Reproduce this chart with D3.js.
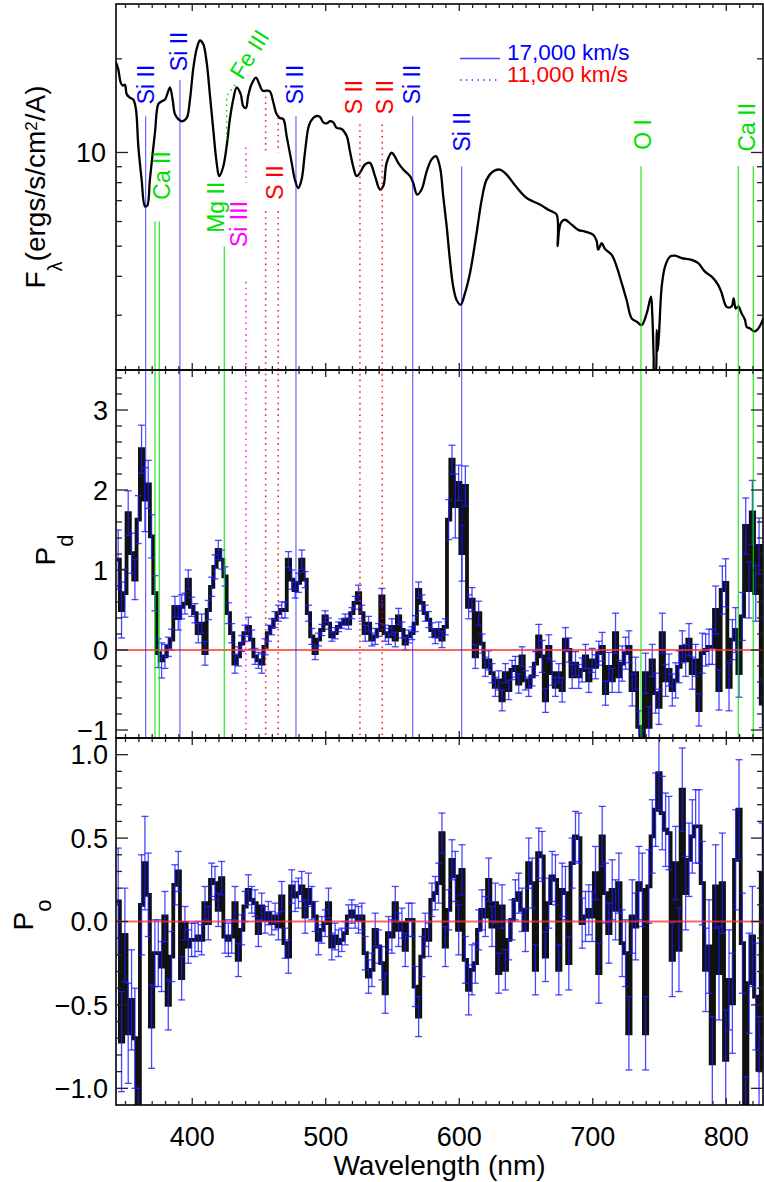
<!DOCTYPE html>
<html><head><meta charset="utf-8">
<script src="https://cdn.jsdelivr.net/npm/d3@7"></script>
<style>
html,body{margin:0;padding:0;background:#fff;}
svg{display:block;font-family:"Liberation Sans",Arial,Helvetica,sans-serif;}
</style></head><body>
<svg id="chart" width="764" height="1182"></svg>
<script>
// ---------- flux spectrum (nm, ergs/s/cm^2/A) ----------
const fluxWave = [342.8,344.6,346.4,347.9,349.6,350.9,353.3,355.8,357.8,359.6,362.1,364.6,366.3,368.3,372.1,374.6,377.1,379.6,381.3,383.3,385.3,387.0,389.5,392.1,395.8,398.3,400.7,403.3,405.8,408.2,410.8,413.3,415.7,418.3,420.2,423.2,425.8,428.2,430.7,433.3,436.3,438.2,440.2,441.9,444.5,447.7,450.2,452.7,455.7,458.2,460.7,463.2,465.7,468.2,470.7,474.5,476.9,479.4,481.9,484.4,487.4,490.6,493.2,495.7,498.1,500.7,503.1,505.6,
 508.2,511.9,515.7,518.1,520.6,523.1,525.6,529.4,533.1,536.9,540.6,543.1,545.6,549.4,551.8,554.3,558.1,563.1,565.5,568.5,571.8,575.6,579.3,582.5,585.5,588.0,590.6,593.0,595.5,598.1,601.0,604.3,608.0,613.0,616.8,620.5,625.5,630.5,635.5,640.4,645.5,650.5,655.4,660.4,666.7,
 669.2,673.0,673.7,674.7,676.2,679.2,684.2,689.1,694.2,700.4,702.9,704.1,706.7,709.1,714.2,717.9,721.7,725.4,729.1,732.9,736.6,740.4,743.6,744.6,745.6,746.1,746.8,747.9,748.6,749.6,751.6,754.1,757.8,761.6,766.6,774.1,779.0,784.0,789.1,794.0,796.6,800.3,804.0,805.5,807.1,809.0,811.5,814.0,815.3,817.8,821.0,824.0,827.8];
const fluxValue = [19.5,18.5,16.8,16.4,16.5,15.4,15.0,14.8,13.8,10.5,8.18,6.71,6.75,8.2,11.6,14.3,14.6,14.8,15.4,16.2,14.8,13.3,12.8,12.6,12.9,14.8,18.5,21.5,22.9,22.3,19.5,15.2,11.9,9.26,8.39,9.0,10.5,12.8,14.8,16.2,15.4,14.1,13.9,15.2,16.6,17.4,16.6,15.8,15.8,15.7,14.5,13.3,12.9,12.8,11.3,9.26,8.18,7.69,8.18,9.98,12.2,12.9,13.1,13.0,12.5,12.4,12.6,12.5,
 12.0,11.9,11.3,10.1,9.0,8.39,8.6,9.15,9.26,8.39,7.6,7.8,9.26,9.98,9.7,9.26,8.81,8.39,7.98,7.32,7.6,8.7,9.5,9.73,9.0,7.23,5.78,4.52,3.7,3.35,3.24,3.53,4.09,5.51,7.05,8.18,8.7,8.81,8.49,7.98,7.5,7.14,6.96,6.8,6.55,
 6.47,6.31,5.0,5.6,5.95,6.08,5.86,5.64,5.57,5.44,5.2,4.87,5.11,4.9,4.69,4.30,3.80,3.35,2.93,2.86,2.79,3.04,3.44,3.0,2.2,1.9,1.9,2.69,2.3,2.6,3.7,4.30,4.63,4.66,4.58,4.52,4.41,4.14,3.99,3.75,3.53,3.19,3.2,3.4,3.15,3.2,3.04,2.9,2.75,2.72,2.66,2.72,2.93];

// ---------- binned polarization (2.5 nm bins starting at 343.3 nm) ----------
const binStart = 343.3, binWidth = 2.5;
const pdValue = [1.13,0.5,0.71,1.71,1.21,0.88,1.63,2.51,1.88,2.07,
 1.42,0.71,-0.04,-0.13,-0.08,0.04,0.13,0.54,0.4,0.54,
 0.58,0.88,0.54,0.46,0.21,0.33,-0.04,0.5,0.79,1.04,
 1.25,1.13,0.92,0.46,0.21,-0.17,-0.08,0.08,0.21,0.29,
 0.13,-0.08,-0.13,-0.17,0.04,0.21,0.29,0.38,0.46,
 0.5,0.5,1.13,0.88,0.75,0.84,1.13,0.88,0.46,0.17,
 -0.04,0.13,0.25,0.42,0.33,0.17,0.21,0.29,0.33,0.38,
 0.33,0.46,0.59,0.71,0.46,0.21,0.33,0.13,0.17,0.25,
 0.67,0.21,0.17,0.29,0.13,0.42,0.25,0.08,0.17,0.21,
 0.33,0.75,0.59,0.46,0.38,0.25,0.17,0.25,0.13,0.29,
 1.63,2.38,1.8,2.09,1.21,2.05,0.54,0.63,-0.08,0.46,
 0.08,-0.21,-0.13,-0.29,-0.46,-0.38,-0.63,-0.29,-0.5,-0.25,
 -0.21,-0.42,-0.08,-0.38,-0.46,-0.33,-0.17,0.17,-0.08,-0.63,
 0.04,-0.29,-0.46,-0.29,-0.5,0.13,0.0,-0.33,-0.17,-0.33,
 -0.25,-0.08,-0.38,-0.13,-0.21,-0.04,0.04,-0.54,-0.21,-0.38,
 0.21,-0.33,-0.17,-0.04,0.04,-0.5,-0.29,-0.96,-1.2,-0.29,
 -0.96,-0.13,-0.54,-0.71,0.21,-0.38,-0.25,-0.5,-0.38,-0.21,
 0.04,-0.13,0.13,-0.29,-0.13,-0.75,-0.04,0.0,0.04,0.04,
 0.5,-0.5,0.75,0.84,-0.46,0.13,0.25,-0.29,0.42,1.55,
 0.75,1.72,0.71,1.3,-0.67];
const pdError = [0.37,0.35,0.3,0.28,0.25,0.25,0.3,0.3,0.4,0.3,
 0.27,0.22,0.18,0.22,0.15,0.12,0.13,0.13,0.15,0.15,
 0.13,0.12,0.12,0.12,0.12,0.12,0.15,0.12,0.12,0.15,
 0.12,0.12,0.12,0.13,0.12,0.12,0.12,0.1,0.1,0.12,
 0.12,0.1,0.1,0.12,0.1,0.1,0.1,0.1,0.1,
 0.1,0.1,0.1,0.12,0.1,0.12,0.12,0.1,0.1,0.1,
 0.08,0.08,0.07,0.07,0.07,0.06,0.07,0.06,0.06,0.07,
 0.07,0.07,0.08,0.1,0.1,0.1,0.09,0.08,0.1,0.08,
 0.1,0.1,0.1,0.1,0.09,0.1,0.1,0.08,0.08,0.08,
 0.1,0.1,0.1,0.1,0.1,0.09,0.09,0.1,0.1,0.1,
 0.25,0.18,0.4,0.22,0.35,0.25,0.15,0.15,0.15,0.15,
 0.12,0.12,0.12,0.12,0.12,0.12,0.13,0.12,0.12,0.12,
 0.13,0.12,0.12,0.12,0.12,0.12,0.15,0.15,0.2,0.15,
 0.15,0.15,0.12,0.12,0.15,0.15,0.15,0.15,0.15,0.15,
 0.15,0.15,0.15,0.15,0.15,0.15,0.18,0.15,0.18,0.15,
 0.25,0.2,0.22,0.2,0.2,0.2,0.2,0.2,0.2,0.25,
 0.25,0.2,0.25,0.22,0.25,0.2,0.2,0.2,0.22,0.2,
 0.2,0.2,0.2,0.2,0.2,0.2,0.25,0.2,0.22,0.22,
 0.3,0.25,0.3,0.3,0.3,0.25,0.28,0.3,0.3,0.35,
 0.35,0.4,0.35,0.35,0.3];
const poValue = [0.12,-0.72,-0.08,-0.67,-0.47,-0.7,-1.3,0.1,0.35,0.16,
 -0.63,-0.19,-0.19,-0.27,0.03,-0.5,-0.21,0.22,0.3,-0.34,
 -0.01,-0.15,-0.11,-0.11,-0.09,-0.11,0.11,-0.01,0.25,0.23,
 0.07,0.26,-0.09,-0.11,-0.09,0.11,-0.23,-0.05,0.09,0.19,
 0.13,0.11,-0.07,0.09,0.01,0.05,-0.01,0.03,-0.03,0.15,
 -0.13,-0.21,0.21,0.15,0.17,
 0.21,0.03,0.19,0.11,0.03,-0.11,-0.05,-0.01,0.11,-0.15,
 -0.09,-0.13,-0.11,-0.07,0.03,0.06,0.03,0.01,0.03,-0.19,
 -0.33,-0.29,-0.05,-0.15,-0.25,-0.43,-0.07,-0.09,0.11,-0.05,
 -0.01,-0.17,0.01,0.01,-0.39,-0.57,-0.21,-0.05,-0.11,0.13,
 0.17,0.23,0.53,-0.15,0.07,0.37,0.27,-0.05,0.31,-0.23,
 -0.41,-0.29,-0.25,-0.05,0.07,0.03,0.25,-0.03,0.11,-0.31,
 0.09,-0.29,-0.11,0.01,0.13,0.17,0.07,-0.05,0.35,0.23,
 -0.29,0.41,0.39,-0.21,0.11,0.27,0.25,-0.29,0.19,0.17,
 -0.25,0.35,0.51,0.5,-0.01,0.03,0.07,0.03,0.29,-0.31,
 0.51,0.17,-0.07,0.19,0.07,0.23,-0.13,-0.19,-0.67,0.03,
 -0.03,0.23,0.19,-0.67,0.21,0.51,0.67,0.89,0.65,0.55,
 0.53,-0.23,0.35,-0.17,0.79,0.17,0.37,0.51,0.57,0.57,
 0.23,-0.29,-0.15,-0.85,0.21,-0.31,0.23,-0.83,-0.35,-0.49,
 0.37,0.67,-0.13,-1.25,-0.37,-0.09,-0.45,-0.89,0.29];
const poError = [0.32,0.3,0.28,0.3,0.3,0.3,0.3,0.3,0.28,0.25,
 0.25,0.2,0.2,0.15,0.15,0.15,0.15,0.12,0.12,0.13,
 0.1,0.1,0.1,0.1,0.09,0.09,0.1,0.1,0.1,0.1,
 0.1,0.1,0.1,0.1,0.1,0.1,0.1,0.09,0.09,0.09,
 0.08,0.08,0.08,0.08,0.08,0.07,0.07,0.08,0.08,0.09,
 0.09,0.1,0.1,0.09,0.09,
 0.09,0.1,0.1,0.1,0.09,0.09,0.08,0.08,0.09,0.08,
 0.08,0.08,0.07,0.07,0.07,0.07,0.07,0.08,0.08,0.1,
 0.1,0.1,0.1,0.1,0.1,0.12,0.1,0.1,0.1,0.1,
 0.09,0.1,0.1,0.1,0.12,0.12,0.12,0.1,0.1,0.1,
 0.1,0.12,0.12,0.12,0.12,0.12,0.15,0.15,0.15,0.14,
 0.15,0.15,0.12,0.12,0.12,0.12,0.13,0.12,0.12,0.12,
 0.13,0.12,0.12,0.12,0.12,0.12,0.13,0.13,0.15,0.15,
 0.15,0.15,0.15,0.15,0.15,0.15,0.15,0.15,0.16,0.16,
 0.16,0.15,0.15,0.15,0.15,0.15,0.15,0.15,0.16,0.18,
 0.18,0.18,0.18,0.18,0.18,0.18,0.2,0.2,0.22,0.22,
 0.2,0.22,0.22,0.22,0.22,0.22,0.22,0.22,0.22,0.22,
 0.22,0.22,0.22,0.25,0.25,0.22,0.22,0.22,0.22,0.22,
 0.25,0.25,0.28,0.28,0.25,0.28,0.3,0.3,0.3,0.3,
 0.3,0.3,0.3,0.32,0.3,0.3,0.32,0.32,0.3];

// ---------- line identifications ----------
const markerIon  = ["Si II","Ca II","Ca II","Si II","Mg II","Si III","S II","S II","Si II","S II","S II","Si II","Si II","O I","Ca II","Ca II"];
const markerWave = [365.1,372.1,375.3,390.8,424.0,440.2,455.0,464.4,477.7,525.6,542.3,565.1,601.8,736.1,809.0,820.2];
const markerVel  = [17,17,17,17,17,11,11,11,17,11,11,17,17,17,17,17]; // 10^3 km/s
const feIIIWave = 425.8;
const legendVel = ["17,000 km/s","11,000 km/s"];

// ---------- axis ticks ----------
const xMajor = [400,500,600,700,800];
const fluxTickLabels = [10];
const pdTickLabels = [-1,0,1,2,3];
const poTickLabels = [-1.0,-0.5,0.0,0.5,1.0];

// ================= drawing =================
const svg = d3.select("#chart");
const X0 = 116, X1 = 763;
const P = {top:[4,370], mid:[370,738], bot:[738,1105]};
const BLUE = "#0000ff", RED = "#ff0000", GREEN = "#00e000", MAG = "#ff00ff";
const ionColor = {"Si II":BLUE,"S II":RED,"Si III":MAG,"Ca II":GREEN,"Mg II":GREEN,"O I":GREEN,"Fe III":GREEN};

const x = d3.scaleLinear().domain([342.9, 827.5]).range([X0, X1]);
const yF = d3.scaleLog().domain([2, 30]).range([P.top[1], P.top[0]]);
const yPd = d3.scaleLinear().domain([-1.1, 3.5]).range([P.mid[1], P.mid[0]]);
const yPo = d3.scaleLinear().domain([-1.1, 1.1]).range([P.bot[1], P.bot[0]]);

const defs = svg.append("defs");
function clip(id, yr) {
  defs.append("clipPath").attr("id", id).append("rect")
    .attr("x", X0).attr("y", yr[0]).attr("width", X1 - X0).attr("height", yr[1] - yr[0]);
}
clip("cTop", P.top); clip("cMid", P.mid); clip("cBot", P.bot);

// ---- flux spectrum ----
const fluxPts = d3.zip(fluxWave, fluxValue);
svg.append("path").attr("clip-path", "url(#cTop)")
  .attr("d", d3.line().x(d => x(d[0])).y(d => yF(d[1])).curve(d3.curveCatmullRom.alpha(0.5))(fluxPts))
  .attr("fill", "none").attr("stroke", "#000").attr("stroke-width", 2.3).attr("stroke-linejoin", "round");

// ---- binned panels ----
function binned(vals, errs, y, clipId) {
  const g = svg.append("g").attr("clip-path", `url(#${clipId})`);
  const pts = vals.map((v, i) => [binStart + i * binWidth, v]);
  pts.push([binStart + vals.length * binWidth, vals[vals.length - 1]]);
  g.append("path")
    .attr("d", d3.line().x(d => x(d[0])).y(d => y(d[1])).curve(d3.curveStepAfter)(pts))
    .attr("fill", "none").attr("stroke", "#111").attr("stroke-width", 3.8).attr("stroke-linejoin", "miter");
  const eb = g.append("g").attr("stroke", "#1a1aff").attr("stroke-width", 1.3).attr("stroke-opacity", 0.8).attr("fill", "none");
  vals.forEach((v, i) => {
    const cx = x(binStart + (i + 0.5) * binWidth);
    const e = errs[i];
    const yt = y(v + e), yb = y(v - e);
    eb.append("line").attr("x1", cx).attr("x2", cx).attr("y1", yt).attr("y2", yb);
    eb.append("line").attr("x1", cx - 3.5).attr("x2", cx + 3.5).attr("y1", yt).attr("y2", yt);
    eb.append("line").attr("x1", cx - 3.5).attr("x2", cx + 3.5).attr("y1", yb).attr("y2", yb);
  });
  g.append("line").attr("x1", X0).attr("x2", X1).attr("y1", y(0)).attr("y2", y(0))
    .attr("stroke", "#ff3030").attr("stroke-opacity", 0.75).attr("stroke-width", 1.8);
}
binned(pdValue, pdError, yPd, "cMid");
binned(poValue, poError, yPo, "cBot");

// ---- identification lines: visible segments in flux units (top panel), then through P_d panel ----
const segTop = [ [[13.07]], [[6.0]], [[6.0]], [[17.1]], [[4.99]],
  [[10.38, 8.0], [3.84]], [[15.77, 10.0], [6.47]], [[12.97, 10.0], [6.47]],
  [[13.07]], [[12.31]], [[12.31]], [[13.07]], [[9.03]], [[9.03]], [[9.03]], [[9.03]] ];
const gl = svg.append("g");
markerWave.forEach((w, i) => {
  const col = ionColor[markerIon[i]];
  const dotted = markerVel[i] === 11;
  const xx = x(w);
  segTop[i].forEach(s => {
    const y1 = yF(s[0]);
    const y2 = s.length > 1 ? yF(s[1]) : P.mid[1];
    gl.append("line").attr("x1", xx).attr("x2", xx).attr("y1", y1).attr("y2", y2)
      .attr("stroke", col).attr("stroke-width", dotted ? 1.6 : 1.2)
      .attr("stroke-opacity", col === BLUE ? 0.6 : 0.85)
      .attr("stroke-dasharray", dotted ? "1.6,4.2" : null);
  });
});
// Fe III marker (short dotted stroke bending toward its label)
gl.append("path")
  .attr("d", d3.line().x(d => x(d[0])).y(d => yF(d[1]))([[feIIIWave, 11.0], [feIIIWave, 15.2], [432.5, 16.6]]))
  .attr("fill", "none").attr("stroke", GREEN).attr("stroke-width", 1.5).attr("stroke-dasharray", "1.6,4");

// ---- line labels (vertical text) ----
const labelWave = [364.9, 377.1, 389.7, 417.8, 434.6, 461.9, 476.9, 521.1, 544.3, 564.2, 602.0, 737.6, 815.1];
const labelText = ["Si II","Ca II","Si II","Mg II","Si III","S II","Si II","S II","S II","Si II","Si II","O I","Ca II"];
const labelFlux = [14.29, 7.05, 18.25, 5.52, 4.97, 7.05, 14.29, 13.26, 13.26, 14.29, 10.07, 10.2, 10.07];
const LFS = 23;
labelText.forEach((t, i) => {
  svg.append("text")
    .attr("transform", `translate(${x(labelWave[i]) + 0.36 * LFS},${yF(labelFlux[i])}) rotate(-90)`)
    .attr("font-size", LFS).attr("fill", ionColor[t]).text(t);
});
svg.append("text")
  .attr("transform", `translate(${x(437.5)},${yF(17.0)}) rotate(-58)`)
  .attr("font-size", LFS).attr("fill", GREEN).text("Fe III");

// ---- velocity key ----
const key = svg.append("g");
[[58.5, null, legendVel[0], BLUE, 60], [80, "1.6,4.2", legendVel[1], RED, 81.5]].forEach(k => {
  key.append("line").attr("x1", 460).attr("x2", 500).attr("y1", k[0]).attr("y2", k[0])
    .attr("stroke", BLUE).attr("stroke-width", 1.4).attr("stroke-opacity", 0.75)
    .attr("stroke-dasharray", k[1]);
  key.append("text").attr("x", 507).attr("y", k[4]).attr("font-size", 22.5).attr("fill", k[3]).text(k[2]);
});

// ---- frames and ticks ----
const tickCol = "#222";
function frame(yr, yScale, majors, minors, fmt, labelX) {
  svg.append("rect").attr("x", X0).attr("y", yr[0]).attr("width", X1 - X0).attr("height", yr[1] - yr[0])
    .attr("fill", "none").attr("stroke", "#000").attr("stroke-width", 1.6);
  const t = svg.append("g").attr("stroke", tickCol).attr("stroke-width", 1.3);
  d3.range(350, 828, 10).forEach(v => {
    const len = v % 100 === 0 ? 7 : 4;
    t.append("line").attr("x1", x(v)).attr("x2", x(v)).attr("y1", yr[1]).attr("y2", yr[1] - len);
    t.append("line").attr("x1", x(v)).attr("x2", x(v)).attr("y1", yr[0]).attr("y2", yr[0] + len);
  });
  const yTick = (v, len) => {
    const yy = yScale(v);
    if (yy < yr[0] + 1 || yy > yr[1] - 1) return;
    t.append("line").attr("x1", X0).attr("x2", X0 + len).attr("y1", yy).attr("y2", yy);
    t.append("line").attr("x1", X1).attr("x2", X1 - len).attr("y1", yy).attr("y2", yy);
  };
  minors.forEach(v => yTick(v, 6));
  majors.forEach(v => yTick(v, 12));
  majors.forEach(v => {
    svg.append("text").attr("x", labelX).attr("y", yScale(v)).attr("dy", "0.36em")
      .attr("text-anchor", "end").attr("font-size", 27).attr("fill", "#000").text(fmt(v));
  });
}
frame(P.top, yF, fluxTickLabels, [3,4,5,6,7,8,9,20], d3.format("d"), 106);
frame(P.mid, yPd, pdTickLabels, d3.range(-1, 3.45, 0.2).map(v => +v.toFixed(1)).filter(v => !pdTickLabels.includes(v)), d3.format("d"), 108);
frame(P.bot, yPo, poTickLabels, d3.range(-1, 1.05, 0.1).map(v => +v.toFixed(1)).filter(v => Math.abs(v * 2 - Math.round(v * 2)) > 1e-6), d3.format(".1f"), 108);

// x tick labels
xMajor.forEach(v => {
  svg.append("text").attr("x", x(v)).attr("y", 1146).attr("text-anchor", "middle")
    .attr("font-size", 27).text(v);
});
svg.append("text").attr("x", (X0 + X1) / 2).attr("y", 1175).attr("text-anchor", "middle")
  .attr("font-size", 28).text("Wavelength (nm)");

// ---- y axis titles ----
const t1 = svg.append("text").attr("transform", `translate(45,${(P.top[0] + P.top[1]) / 2}) rotate(-90)`)
  .attr("text-anchor", "middle").attr("font-size", 28);
t1.append("tspan").text("F");
t1.append("tspan").attr("dy", 17).attr("font-size", 20).text("λ");
t1.append("tspan").attr("dy", -17).text("(ergs/s/cm");
t1.append("tspan").attr("dy", -8).attr("font-size", 17).text("2");
t1.append("tspan").attr("dy", 8).text("/A)");

function subTitle(xb, yc, main, sub) {
  const t = svg.append("text").attr("transform", `translate(${xb},${yc}) rotate(-90)`)
    .attr("text-anchor", "middle").attr("font-size", 28);
  t.append("tspan").text(main);
  t.append("tspan").attr("dy", 18).attr("font-size", 22).text(sub);
}
subTitle(55, 550, "P", "d");
subTitle(33, 915, "P", "o");
</script>
</body></html>
